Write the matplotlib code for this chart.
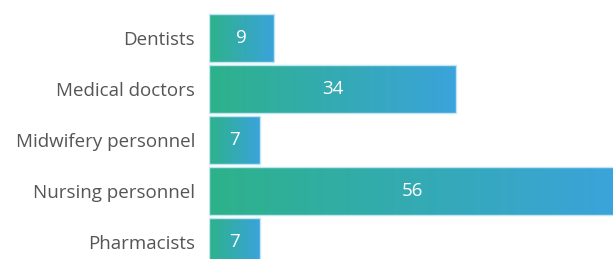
import numpy as np
import matplotlib
matplotlib.use("Agg")
import matplotlib.pyplot as plt
from matplotlib.colors import LinearSegmentedColormap

categories = ["Dentists", "Medical doctors", "Midwifery personnel", "Nursing personnel", "Pharmacists"]
values = [9, 34, 7, 56, 7]

plt.rcParams['font.family'] = ['Open Sans', 'DejaVu Sans']

W, H = 613, 259
fig = plt.figure(figsize=(W / 100, H / 100), dpi=100)
left = 209 / W
top = 1 - 12.5 / H
bottom = 1 - 267.5 / H
ax = fig.add_axes([left, bottom, 1 - left, top - bottom])

cmap = LinearSegmentedColormap.from_list("g", ["#2db28a", "#3ba3db"])
y = np.arange(len(categories))
bars = ax.barh(y, values, height=0.94, color="none", edgecolor="#bfe6f2", linewidth=1.0, zorder=3)
grad = np.linspace(0, 1, 256).reshape(1, -1)
for b in bars:
    x0, y0 = b.get_x(), b.get_y()
    w, h = b.get_width(), b.get_height()
    im = ax.imshow(grad, cmap=cmap, aspect="auto", extent=(x0, x0 + w, y0 + h, y0), zorder=2)
    im.set_clip_path(b)
    ax.text(x0 + w / 2, y0 + h / 2, str(int(w)), ha="center", va="center",
            color="white", fontsize=13.5, zorder=4)

ax.set_xlim(0, 55.6)
ax.set_ylim(len(categories) - 0.5, -0.5)
ax.set_yticks(y)
ax.set_yticklabels(categories, fontsize=13.5, color="#555555")
ax.tick_params(axis="y", length=0, pad=10)
ax.set_xticks([])
for s in ax.spines.values():
    s.set_visible(False)
ax.set_facecolor("none")

fig.savefig("out.png", dpi=100)
